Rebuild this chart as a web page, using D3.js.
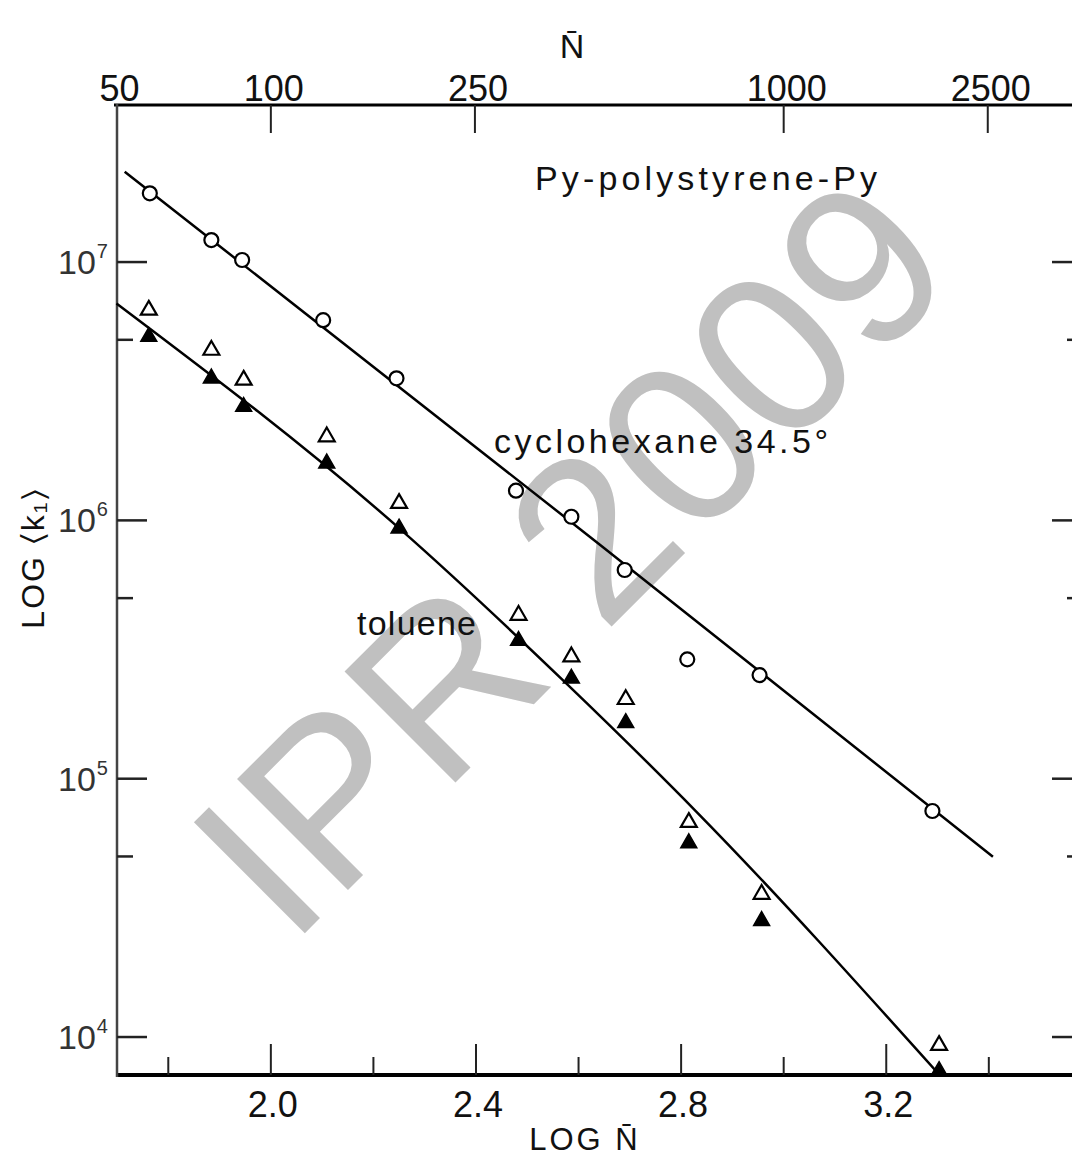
<!DOCTYPE html>
<html>
<head>
<meta charset="utf-8">
<script src="https://cdn.jsdelivr.net/npm/d3@7"></script>
<style>
  body { margin: 0; background: #fff; }
  svg { display: block; font-family: "Liberation Sans", Arial, sans-serif; }
  .lbl { font-size: 36px; fill: #111; }
  .note { font-size: 34px; fill: #111; }
</style>
</head>
<body>
<svg width="1072" height="1159"></svg>
<script>
// values (log10 scale)
var logN_circ = [1.764, 1.884, 1.944, 2.102, 2.245, 2.478, 2.586, 2.690, 2.812, 2.953, 3.290];
var logK_cyclohexane = [7.266, 7.085, 7.008, 6.775, 6.550, 6.115, 6.014, 5.808, 5.462, 5.401, 4.875];
var logN_tri = [1.762, 1.884, 1.947, 2.109, 2.250, 2.483, 2.586, 2.692, 2.815, 2.957, 3.303];
var logK_toluene_open = [6.814, 6.659, 6.543, 6.324, 6.066, 5.633, 5.472, 5.307, 4.831, 4.553, 3.968];
var logK_toluene_filled = [6.711, 6.550, 6.440, 6.221, 5.969, 5.534, 5.388, 5.216, 4.751, 4.450, 3.869];

// drawn fit lines
var cycLineN = [1.715, 2.641, 3.408];
var cycLineK = [7.350, 5.907, 4.698];
var tolLineN = [1.699, 2.250, 2.576, 2.830, 3.304];
var tolLineK = [6.840, 5.970, 5.369, 4.872, 3.853];

var bottomTicks = [1.8, 2.0, 2.2, 2.4, 2.6, 2.8, 3.0, 3.2, 3.4];
var bottomLabels = ["2.0", "2.4", "2.8", "3.2"];
var topTicksN = [100, 250, 1000, 2500];
var topLabelsN = ["50", "100", "250", "1000", "2500"];
var yMajor = [7, 6, 5, 4];
var yMinor = [6.699, 5.699, 4.699];

var svg = d3.select('svg');

var x = d3.scaleLinear().domain([1.7, 3.57]).range([117, 1076]);
var y = d3.scaleLinear().domain([3.853, 7.608]).range([1075, 105]);

// watermark
svg.append('text')
    .attr('transform', 'translate(626,612) rotate(-45)')
    .attr('text-anchor', 'middle')
    .style('font-size', '228px')
    .style('fill', '#c0c0c0')
    .text('IPR 2009');

// frame
svg.append('line').attr('x1', 114).attr('x2', 1072).attr('y1', 105).attr('y2', 105)
    .attr('stroke', '#000').attr('stroke-width', 3);
svg.append('line').attr('x1', 118).attr('x2', 1072).attr('y1', 1075).attr('y2', 1075)
    .attr('stroke', '#000').attr('stroke-width', 4);
svg.append('line').attr('x1', 117).attr('x2', 117).attr('y1', 104).attr('y2', 1077)
    .attr('stroke', '#444').attr('stroke-width', 2.5);

// bottom ticks
svg.append('g').selectAll('line').data(bottomTicks).enter().append('line')
    .attr('x1', d => x(d)).attr('x2', d => x(d))
    .attr('y1', 1075)
    .attr('y2', d => (Math.round(d * 10) % 4 == 0) ? 1044 : 1057)
    .attr('stroke', '#222').attr('stroke-width', 2);
svg.append('g').selectAll('text').data(bottomLabels).enter().append('text')
    .attr('class', 'lbl')
    .attr('x', d => x(+d) + 2).attr('y', 1117)
    .attr('text-anchor', 'middle')
    .text(d => d);

// top ticks (N)
svg.append('g').selectAll('line').data(topTicksN).enter().append('line')
    .attr('x1', d => x(Math.log10(d))).attr('x2', d => x(Math.log10(d)))
    .attr('y1', 105).attr('y2', 133)
    .attr('stroke', '#222').attr('stroke-width', 2);
svg.append('g').selectAll('text').data(topLabelsN).enter().append('text')
    .attr('class', 'lbl')
    .attr('x', d => x(Math.log10(+d)) + 3).attr('y', 101)
    .attr('text-anchor', 'middle')
    .text(d => d);

// left / right ticks
yMajor.forEach(function(v){
    svg.append('line').attr('x1', 117).attr('x2', 147).attr('y1', y(v)).attr('y2', y(v))
        .attr('stroke', '#222').attr('stroke-width', 2.5);
    svg.append('line').attr('x1', 1052).attr('x2', 1072).attr('y1', y(v)).attr('y2', y(v))
        .attr('stroke', '#222').attr('stroke-width', 2.5);
    var t = svg.append('text').attr('x', 58).attr('y', y(v) + 12)
        .style('font-size', '34px').style('fill', '#333');
    t.append('tspan').text('10');
    t.append('tspan').attr('dx', 1).attr('dy', -16).style('font-size', '20px').text(v);
});
yMinor.forEach(function(v){
    svg.append('line').attr('x1', 117).attr('x2', 133).attr('y1', y(v)).attr('y2', y(v))
        .attr('stroke', '#222').attr('stroke-width', 2.5);
    svg.append('line').attr('x1', 1067).attr('x2', 1072).attr('y1', y(v)).attr('y2', y(v))
        .attr('stroke', '#222').attr('stroke-width', 2.5);
});

// axis titles
svg.append('text').attr('x', 572).attr('y', 58).attr('text-anchor', 'middle')
    .style('font-size', '34px').style('fill', '#111').text('N\u0304');
svg.append('text').attr('x', 585).attr('y', 1150).attr('text-anchor', 'middle')
    .style('font-size', '31px').style('fill', '#111').attr('letter-spacing', 3)
    .text('LOG  N\u0304');
svg.append('text').attr('transform', 'translate(44,558) rotate(-90)')
    .attr('text-anchor', 'middle')
    .style('font-size', '32px').style('fill', '#111').attr('letter-spacing', 2)
    .text('LOG  \u2329k\u2081\u232A');

// fit lines
var line = d3.line().x(d => x(d[0])).y(d => y(d[1]));
svg.append('path').datum(d3.zip(cycLineN, cycLineK))
    .attr('d', line).attr('fill', 'none').attr('stroke', '#000').attr('stroke-width', 2.5);
svg.append('path').datum(d3.zip(tolLineN, tolLineK))
    .attr('d', line.curve(d3.curveMonotoneX)).attr('fill', 'none').attr('stroke', '#000').attr('stroke-width', 2.5);

// markers
var tri = d3.symbol().type(d3.symbolTriangle).size(110);
svg.append('g').selectAll('path').data(d3.zip(logN_tri, logK_toluene_open)).enter().append('path')
    .attr('d', tri)
    .attr('transform', d => 'translate(' + x(d[0]) + ',' + y(d[1]) + ')')
    .attr('fill', '#fff').attr('stroke', '#000').attr('stroke-width', 2.2);
svg.append('g').selectAll('path').data(d3.zip(logN_tri, logK_toluene_filled)).enter().append('path')
    .attr('d', tri)
    .attr('transform', d => 'translate(' + x(d[0]) + ',' + y(d[1]) + ')')
    .attr('fill', '#000').attr('stroke', '#000').attr('stroke-width', 1.5);
svg.append('g').selectAll('circle').data(d3.zip(logN_circ, logK_cyclohexane)).enter().append('circle')
    .attr('cx', d => x(d[0])).attr('cy', d => y(d[1])).attr('r', 7)
    .attr('fill', '#fff').attr('stroke', '#000').attr('stroke-width', 2.2);

// annotations
svg.append('text').attr('class', 'note').attr('x', 535).attr('y', 190)
    .attr('textLength', 342).attr('lengthAdjust', 'spacing').text('Py-polystyrene-Py');
svg.append('text').attr('class', 'note').attr('x', 494).attr('y', 453)
    .attr('textLength', 334).attr('lengthAdjust', 'spacing').text('cyclohexane  34.5\u00B0');
svg.append('text').attr('class', 'note').attr('x', 357).attr('y', 635)
    .attr('textLength', 119).attr('lengthAdjust', 'spacing').text('toluene');
</script>
</body>
</html>
